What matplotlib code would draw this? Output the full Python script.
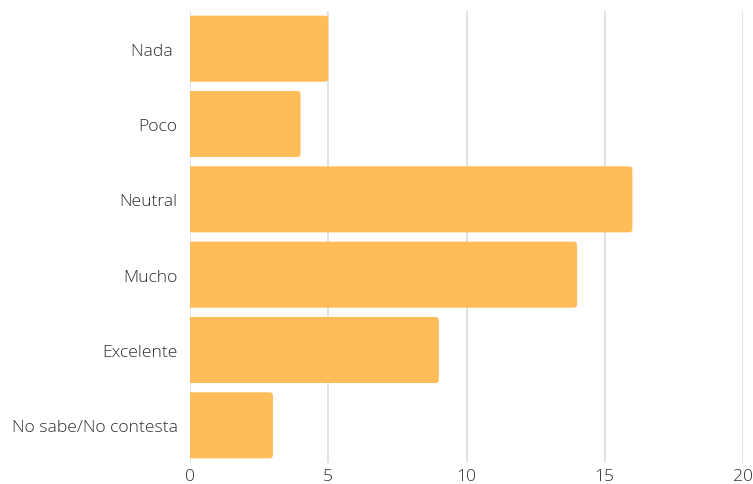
"""Barras horizontales con respuestas de la encuesta."""
import matplotlib
matplotlib.use('Agg')
from matplotlib import pyplot as plt
from matplotlib.patches import FancyBboxPatch

plt.rcParams['font.family'] = ['Open Sans', 'DejaVu Sans']

categorias = ['Nada ', 'Poco', 'Neutral', 'Mucho', 'Excelente', 'No sabe/No contesta']
valores = [5, 4, 16, 14, 9, 3]
ticks_x = [0, 5, 10, 15, 20]

COLOR_BARRA = '#FFBD59'
COLOR_TEXTO = '#2E2E2E'
COLOR_GRID = '#DDDDDD'

W, H, DPI = 753, 485, 100
fig = plt.figure(figsize=(W / DPI, H / DPI), dpi=DPI)
left, right, top, bottom = 190, 743, 12, 464
ax = fig.add_axes([left / W, (H - bottom) / H, (right - left) / W, (bottom - top) / H])

ax.set_xlim(0, 20)
ax.set_ylim(len(categorias) - 0.5, -0.5)

bars = ax.barh(range(len(categorias)), valores, height=0.877, color=COLOR_BARRA)

# cambiar cada barra por una con esquinas redondeadas (solo se ven las de la derecha)
px_x = (right - left) / 20
px_y = (bottom - top) / len(categorias)
r = 3.5 / px_x
for b in bars:
    x0, y0 = b.get_x(), b.get_y()
    w, h = b.get_width(), b.get_height()
    b.set_visible(False)
    p = FancyBboxPatch((x0 - r * 2, y0), w + r * 2, h,
                       boxstyle=f'round,pad=0,rounding_size={r}',
                       mutation_aspect=px_x / px_y,
                       facecolor=COLOR_BARRA, edgecolor='none', zorder=2)
    ax.add_patch(p)

ax.set_yticks(range(len(categorias)))
ax.set_yticklabels(categorias)
ax.set_xticks(ticks_x)
ax.set_xticklabels([str(t) for t in ticks_x])
for lbl in ax.get_xticklabels() + ax.get_yticklabels():
    lbl.set_fontweight('light')
ax.tick_params(axis='y', length=0, pad=9, labelsize=12.6, labelcolor=COLOR_TEXTO)
ax.tick_params(axis='x', length=0, pad=3.5, labelsize=12.6, labelcolor=COLOR_TEXTO)

ax.grid(axis='x', color=COLOR_GRID, linewidth=1.2, zorder=0)
ax.set_axisbelow(True)
for s in ax.spines.values():
    s.set_visible(False)

fig.savefig('out.png', dpi=DPI)
